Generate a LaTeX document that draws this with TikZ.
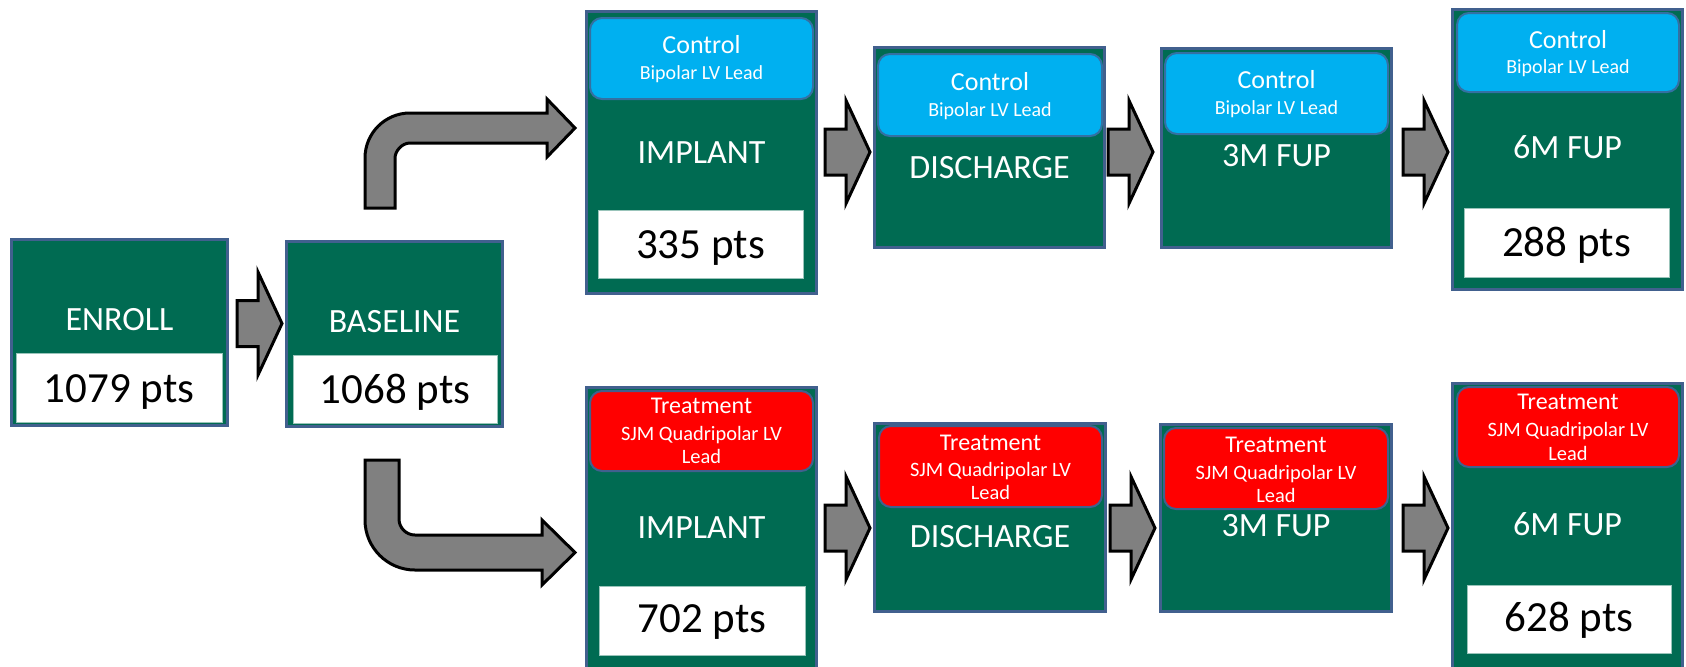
\documentclass[tikz,border=0pt]{standalone}
\usepackage{fontspec}
\setmainfont{Carlito}
\definecolor{stgreen}{HTML}{006B52}
\definecolor{bordc}{HTML}{41608E}
\definecolor{ctlblue}{HTML}{00B0F0}
\definecolor{trtred}{HTML}{FF0000}
\definecolor{arrgray}{HTML}{808080}
\tikzset{
  stage/.style={draw=bordc, line width=1.5pt, fill=stgreen, inner sep=0pt, outer sep=0pt},
  hdrc/.style={draw=bordc!80!ctlblue, line width=1pt, fill=ctlblue, rounded corners=6pt, inner sep=0pt},
  hdrt/.style={draw=bordc, line width=1pt, fill=trtred, rounded corners=6pt, inner sep=0pt},
  cnt/.style={fill=white, draw=stgreen!40, line width=0.4pt, inner sep=0pt},
  lbl/.style={anchor=base, text=white, inner sep=0pt, font=\fontsize{17}{20}\selectfont},
  num/.style={anchor=base, text=black, inner sep=0pt, font=\fontsize{21.5}{25}\selectfont},
  ctl/.style={anchor=base, text=white, inner sep=0pt, font=\fontsize{13}{15}\selectfont},
  ctlsub/.style={anchor=base, text=white, inner sep=0pt, font=\fontsize{10}{12}\selectfont},
  trt/.style={anchor=base, text=white, inner sep=0pt, font=\fontsize{12}{14}\selectfont},
  trtsub/.style={anchor=base, text=white, inner sep=0pt, font=\fontsize{10.2}{12}\selectfont},
  arrowst/.style={fill=arrgray, draw=black, line width=1.5pt, line join=miter},
  barrow/.pic={\draw[arrowst] (0,-23) -- (21,-23) -- (21,-51.5) -- (45,0) -- (21,51.5) -- (21,23) -- (0,23) -- cycle;}
}
\begin{document}
\begin{tikzpicture}[x=0.5pt,y=-0.5pt]
\useasboundingbox (0,0) rectangle (1686,666);
\begin{scope}
\clip (0,0) rectangle (1686,666);
% ---------- stage boxes ----------
\node[stage, minimum width=108pt, minimum height=93pt] (enroll) at (119.5,332.5) {};
\node[stage, minimum width=108pt, minimum height=92.5pt] (baseline) at (394.5,334) {};
\node[stage, minimum width=115pt, minimum height=141pt] (impC) at (701.5,152.5) {};
\node[stage, minimum width=115pt, minimum height=100pt] (disC) at (989.5,147.5) {};
\node[stage, minimum width=115pt, minimum height=99.5pt] (m3C) at (1276.5,148) {};
\node[stage, minimum width=115pt, minimum height=140pt] (m6C) at (1567.5,149.5) {};
\node[stage, minimum width=115pt, minimum height=141.5pt] (impT) at (701.5,529) {};
\node[stage, minimum width=115.5pt, minimum height=94pt] (disT) at (990,517.5) {};
\node[stage, minimum width=115.5pt, minimum height=93.5pt] (m3T) at (1276,518) {};
\node[stage, minimum width=115pt, minimum height=143.5pt] (m6T) at (1567.5,527) {};
\end{scope}
% ---------- headers ----------
\node[hdrc, minimum width=111.5pt, minimum height=40.5pt] (impCh) at (701.5,58.5) {};
\node[hdrc, minimum width=112pt, minimum height=41pt] (disCh) at (990,95) {};
\node[hdrc, minimum width=111.5pt, minimum height=40.5pt] (m3Ch) at (1276.5,93.5) {};
\node[hdrc, minimum width=111pt, minimum height=39.5pt] (m6Ch) at (1568,52.5) {};
\node[hdrt, minimum width=111.5pt, minimum height=40pt] (impTh) at (701.5,431) {};
\node[hdrt, minimum width=111.5pt, minimum height=40.5pt] (disTh) at (990.5,466.5) {};
\node[hdrt, minimum width=112pt, minimum height=40.5pt] (m3Th) at (1276,468.5) {};
\node[hdrt, minimum width=111pt, minimum height=40pt] (m6Th) at (1568,427) {};
% ---------- count boxes ----------
\node[cnt, minimum width=103pt, minimum height=34.5pt] (enrollN) at (119,387.5) {};
\node[cnt, minimum width=102pt, minimum height=34pt] (baselineN) at (395,389) {};
\node[cnt, minimum width=102.5pt, minimum height=34pt] (impCN) at (700.5,244) {};
\node[cnt, minimum width=102.5pt, minimum height=34.5pt] (m6CN) at (1566.5,242.5) {};
\node[cnt, minimum width=103pt, minimum height=34.5pt] (impTN) at (702,620.5) {};
\node[cnt, minimum width=102pt, minimum height=34pt] (m6TN) at (1569,619) {};
% ---------- stage labels ----------
\node[lbl] (enrollL) at (119.5,330.5) {ENROLL};
\node[lbl] (baselineL) at (394.5,332.5) {BASELINE};
\node[lbl] (impCL) at (701.5,163) {IMPLANT};
\node[lbl] (disCL) at (989.5,178) {DISCHARGE};
\node[lbl] (m3CL) at (1276.5,166.5) {3M FUP};
\node[lbl] (m6CL) at (1567.5,158) {6M FUP};
\node[lbl] (impTL) at (701.5,538) {IMPLANT};
\node[lbl] (disTL) at (990,547) {DISCHARGE};
\node[lbl] (m3TL) at (1276,536.5) {3M FUP};
\node[lbl] (m6TL) at (1567.5,535) {6M FUP};
% ---------- counts ----------
\node[num] (enrollT) at (119,402) {1079 pts};
\node[num] (baselineT) at (395,403) {1068 pts};
\node[num] (impCT) at (700.5,258) {335 pts};
\node[num] (m6CT) at (1566.5,256.5) {288 pts};
\node[num] (impTT) at (702,632) {702 pts};
\node[num] (m6TT) at (1569,631.5) {628 pts};
% ---------- header texts ----------
\node[ctl] (impCa) at (701.5,53) {Control};
\node[ctlsub] (impCb) at (701.5,79) {Bipolar LV Lead};
\node[ctl] (disCa) at (990,90) {Control};
\node[ctlsub] (disCb) at (990,116) {Bipolar LV Lead};
\node[ctl] (m3Ca) at (1276.5,88) {Control};
\node[ctlsub] (m3Cb) at (1276.5,114) {Bipolar LV Lead};
\node[ctl] (m6Ca) at (1568,48) {Control};
\node[ctlsub] (m6Cb) at (1568,73) {Bipolar LV Lead};
\node[trt] (impTa) at (701.5,413) {Treatment};
\node[trtsub] (impTb) at (701.5,440) {SJM Quadripolar LV};
\node[trtsub] (impTc) at (701.5,463) {Lead};
\node[trt] (disTa) at (990.5,450) {Treatment};
\node[trtsub] (disTb) at (990.5,476.5) {SJM Quadripolar LV};
\node[trtsub] (disTc) at (990.5,499) {Lead};
\node[trt] (m3Ta) at (1276,452.5) {Treatment};
\node[trtsub] (m3Tb) at (1276,479) {SJM Quadripolar LV};
\node[trtsub] (m3Tc) at (1276,502.5) {Lead};
\node[trt] (m6Ta) at (1568,409.5) {Treatment};
\node[trtsub] (m6Tb) at (1568,436.5) {SJM Quadripolar LV};
\node[trtsub] (m6Tc) at (1568,460.5) {Lead};
% ---------- straight block arrows ----------
\pic at (237,323.5) {barrow};
\pic at (825,152) {barrow};
\pic at (1108,152) {barrow};
\pic at (1403,152) {barrow};
\pic at (825,528) {barrow};
\pic at (1110,528) {barrow};
\pic at (1403,528) {barrow};
% ---------- bent block arrows ----------
\draw[arrowst] (365,208) -- (365,158) .. controls (365,133.1) and (385.1,113) .. (410,113)
  -- (547,113) -- (547,99) -- (575,128) -- (547,157) -- (547,143) -- (410,143)
  .. controls (401.7,143) and (395,151.3) .. (395,158) -- (395,208) -- cycle;
\draw[arrowst] (365,460) -- (365,520) .. controls (365,547.6) and (387.4,570) .. (415,570)
  -- (542,570) -- (542,585) -- (575,552.5) -- (542,520) -- (542,535) -- (415,535)
  .. controls (406.2,535) and (399,527.8) .. (399,519) -- (399,460) -- cycle;
\end{tikzpicture}
\end{document}
